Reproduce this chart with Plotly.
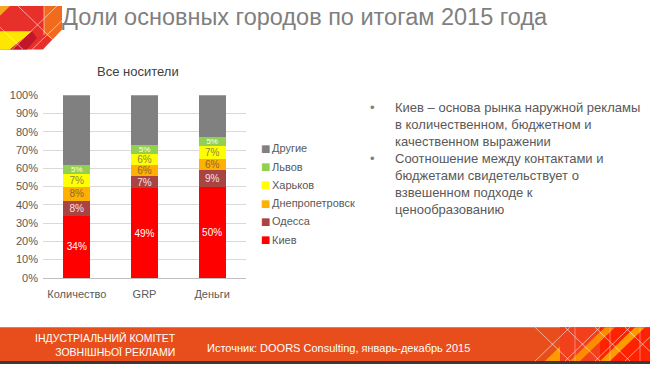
import plotly.graph_objects as go

W, H = 650, 370

categories = ["Количество", "GRP", "Деньги"]
series_names = ["Киев", "Одесса", "Днепропетровск", "Харьков", "Львов", "Другие"]
kiev = [34, 49, 50]
odessa = [8, 7, 9]
dnepr = [8, 6, 6]
kharkov = [7, 6, 7]
lviv = [5, 5, 5]
other = [38, 27, 23]
y_ticks = [0, 10, 20, 30, 40, 50, 60, 70, 80, 90, 100]
y_tick_labels = [f"{v}%" for v in y_ticks]

series_values = [kiev, odessa, dnepr, kharkov, lviv, other]
colors = ["#FF0000", "#A94442", "#FFB000", "#FFFF00", "#92D050", "#808080"]
label_colors = ["#FFFFFF", "#F7E0E0", "#8A6A30", "#8C8A40", "#FFFFFF", None]
label_sizes = [10, 10, 10, 10, 8, 10]

FONT = "Liberation Sans, Arial, sans-serif"


def px(x):
    return x / W


def py(y):
    return 1 - y / H


fig = go.Figure()
for name, vals, col, lc, ls in zip(series_names, series_values, colors, label_colors, label_sizes):
    fig.add_trace(go.Bar(
        x=categories, y=vals, name=name,
        marker=dict(color=col, line=dict(width=0)),
        width=0.4,
        text=[f"{v}%" for v in vals] if lc else None,
        textposition="inside" if lc else "none",
        insidetextanchor="middle",
        textangle=0,
        constraintext="none",
        insidetextfont=dict(color=lc or "#fff", size=ls, family=FONT),
        hoverinfo="skip",
        showlegend=False,
    ))

shapes = []


def poly(points, color):
    d = "M " + " L ".join(f"{px(x):.5f},{py(y):.5f}" for x, y in points) + " Z"
    shapes.append(dict(type="path", xref="paper", yref="paper", path=d,
                       fillcolor=color, line=dict(width=0), layer="above"))


def line(x0, y0, x1, y1, color="rgba(255,255,255,0.55)", w=1):
    shapes.append(dict(type="line", xref="paper", yref="paper",
                       x0=px(x0), y0=py(y0), x1=px(x1), y1=py(y1),
                       line=dict(color=color, width=w), layer="above"))


# Logo (top-left)
poly([(0, 0), (62, 0), (62, 24), (43, 45), (0, 45)], "#E8302A")
poly([(44, 0), (62, 0), (62, 24), (52, 35), (44, 28)], "#F26B1D")
poly([(0, 0), (10, 0), (0, 10)], "#F5A623")
poly([(0, 26), (32, 26), (10, 45), (0, 45)], "#FFE600")
poly([(10, 45), (32, 26), (37, 33), (27, 45)], "#C0182A")
line(12, 45, 57, 0)
line(32, 45, 62, 15)
line(0, 22, 23, 45)
line(18, 0, 62, 44)
line(44, 0, 44, 30)

# Footer
shapes.append(dict(type="rect", xref="paper", yref="paper", x0=0, x1=1, y0=py(367), y1=py(332),
                   fillcolor="#E84E1B", line=dict(width=0), layer="below"))
shapes.append(dict(type="rect", xref="paper", yref="paper", x0=0, x1=1, y0=py(370), y1=py(367),
                   fillcolor="#3A3A3A", line=dict(width=0), layer="below"))
poly([(560, 332), (600, 332), (600, 367), (560, 367)], "#F2401C")
poly([(600, 332), (650, 332), (650, 367), (600, 367)], "#FF2200")
poly([(570, 367), (605, 332), (615, 332), (580, 367)], "#FF8C00")
poly([(600, 367), (635, 332), (645, 332), (610, 367)], "#FF9A00")
poly([(545, 367), (560, 352), (560, 367)], "#FF9A00")
for x0 in [535, 565, 595, 625]:
    line(x0, 367, x0 + 35, 332)
    line(x0, 332, x0 + 35, 367)
for xv in [575, 610, 640]:
    line(xv, 332, xv, 367, color="rgba(255,200,200,0.5)")

annotations = [
    dict(text="Доли основных городов по итогам 2015 года", x=px(60), y=py(11.5), xanchor="left", yanchor="middle",
         font=dict(size=23.5, color="#7F7F7F", family=FONT)),
    dict(text="Все носители", x=px(138), y=py(68), xanchor="center", yanchor="middle",
         font=dict(size=13, color="#404040", family=FONT)),
    dict(text="ІНДУСТРІАЛЬНИЙ КОМІТЕТ<br>ЗОВНІШНЬОЇ РЕКЛАМИ", x=px(178), y=py(350), xanchor="right",
         yanchor="middle", align="right",
         font=dict(size=10.5, color="#FFFFFF", family="Liberation Sans Narrow, Arial Narrow, Liberation Sans, sans-serif")),
    dict(text="Источник: DOORS Consulting, январь-декабрь 2015", x=px(205), y=py(353), xanchor="left",
         yanchor="middle", font=dict(size=11, color="#FFFFFF", family=FONT)),
]

# Legend (reversed order, top = Другие)
legend_top = 147
for i, (name, col) in enumerate(reversed(list(zip(series_names, colors)))):
    yc = legend_top + i * 18.9
    annotations.append(dict(text="■", x=px(265), y=py(yc), xanchor="center", yanchor="middle",
                            font=dict(size=10, color=col, family="DejaVu Sans, sans-serif")))
    annotations.append(dict(text=name, x=px(270), y=py(yc), xanchor="left", yanchor="middle",
                            font=dict(size=11, color="#595959", family=FONT)))

bullets = [
    ("Киев – основа рынка наружной рекламы<br>в количественном, бюджетном и<br>качественном выражении", 104),
    ("Соотношение между контактами и<br>бюджетами свидетельствует о<br>взвешенном подходе к<br>ценообразованию", 157),
]
for txt, ytop in bullets:
    annotations.append(dict(text="•", x=px(372), y=py(ytop - 9), xanchor="center", yanchor="top",
                            font=dict(size=13, color="#7F7F7F", family=FONT)))
    annotations.append(dict(text=txt, x=px(393), y=py(ytop - 9), xanchor="left", yanchor="top", align="left",
                            font=dict(size=13, color="#595959", family=FONT)))

for a in annotations:
    a.update(xref="paper", yref="paper", showarrow=False)

fig.update_layout(
    width=W, height=H,
    margin=dict(l=0, r=0, t=0, b=0),
    paper_bgcolor="#FFFFFF", plot_bgcolor="#FFFFFF",
    barmode="stack",
    showlegend=False,
    xaxis=dict(domain=[px(43), px(246)], range=[-0.5, 2.5], showgrid=False, showline=True,
               linecolor="#BFBFBF", linewidth=1, ticks="", fixedrange=True, ticklabelstandoff=6,
               tickfont=dict(size=11, color="#595959", family=FONT)),
    yaxis=dict(domain=[py(281), py(92.3)], range=[0, 100], tickmode="array", tickvals=y_ticks,
               ticktext=y_tick_labels,
               showgrid=True, gridcolor="#D9D9D9", gridwidth=1, zeroline=False, showline=False,
               ticks="", fixedrange=True, ticklabelstandoff=4,
               tickfont=dict(size=11, color="#595959", family=FONT)),
    shapes=shapes,
    annotations=annotations,
    font=dict(family=FONT),
)

fig.write_html("out.html", config={"displayModeBar": False},
               post_script="document.body.style.margin='0';document.body.style.overflow='hidden';")
